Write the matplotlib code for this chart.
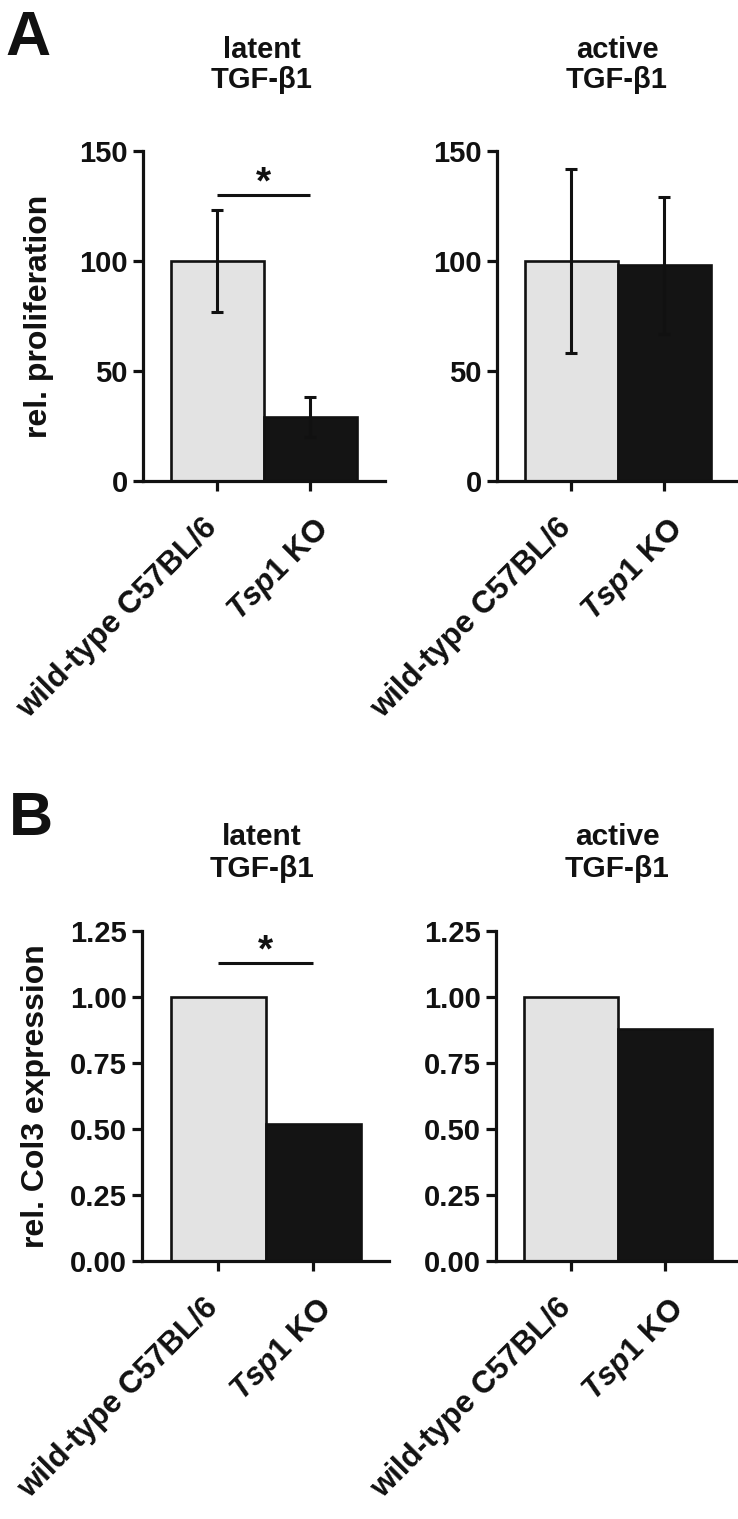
import numpy as np
import matplotlib
matplotlib.use('Agg')
from matplotlib import pyplot as plt
from matplotlib import transforms

plt.rcParams['font.family'] = ['Liberation Sans', 'DejaVu Sans']
plt.rcParams['font.weight'] = 'bold'
plt.rcParams['axes.labelweight'] = 'bold'
plt.rcParams['mathtext.fontset'] = 'custom'
plt.rcParams['mathtext.it'] = 'Liberation Sans:italic:bold'
plt.rcParams['mathtext.rm'] = 'Liberation Sans:bold'
plt.rcParams['mathtext.bf'] = 'Liberation Sans:bold'

#groups and panel titles
groups = ['wild-type C57BL/6', r'$\mathit{Tsp1}$ KO']
titles = ['latent\nTGF-β1', 'active\nTGF-β1']

#panel A: relative proliferation, mean and error
prolif_latent = [100, 29]
prolif_latent_err = [23, 9]
prolif_active = [100, 98]
prolif_active_err = [42, 31]
prolif_ticks = [0, 50, 100, 150]

#panel B: relative Col3 expression
col3_latent = [1.00, 0.52]
col3_active = [1.00, 0.88]
col3_ticks = [0.00, 0.25, 0.50, 0.75, 1.00, 1.25]

#significance bars (height of the bracket line)
sig_prolif = 130
sig_col3 = 1.13

bar_colors = ['#e3e3e3', '#141414']
ink = '#111111'

W, H = 738, 1519
fig = plt.figure(figsize=(W / 100, H / 100), dpi=100)


def px_axes(left, top, spacing, height):
    #axes placed in pixel units, xlim is -0.8..1.8
    width = 2.6 * spacing
    return fig.add_axes([left / W, 1 - (top + height) / H, width / W, height / H])


def draw_panel(ax, vals, errs, ticks, fmt, ylabel=None, sig=None):
    x = np.arange(len(vals))
    ax.bar(x, vals, width=1.0, color=bar_colors, edgecolor=ink, linewidth=1.9, zorder=2)
    if errs is not None:
        ax.errorbar(x, vals, yerr=errs, fmt='none', ecolor=ink, elinewidth=2.2,
                    capsize=4, capthick=2.2, zorder=3)
    ax.set_xlim(-0.8, 1.8)
    ax.set_ylim(ticks[0], ticks[-1])
    for s in ['top', 'right']:
        ax.spines[s].set_visible(False)
    for s in ['left', 'bottom']:
        ax.spines[s].set_linewidth(2.3)
        ax.spines[s].set_color(ink)
    ax.set_yticks(ticks)
    ax.set_yticklabels([fmt.format(t) for t in ticks])
    ax.set_xticks(x)
    ax.set_xticklabels([])
    ax.tick_params(axis='both', width=2.3, length=7, labelsize=21, colors=ink, pad=4)
    #rotated group labels under the ticks
    for xi, lab, dx in zip(x, groups, [-15, 3]):
        off = transforms.ScaledTranslation(dx / 100, -32 / 100, fig.dpi_scale_trans)
        ax.text(xi, 0, lab, transform=ax.get_xaxis_transform() + off, rotation=45,
                ha='right', va='top', rotation_mode='anchor', fontsize=22.5, color=ink)
    if ylabel:
        ax.set_ylabel(ylabel, fontsize=23, color=ink, fontweight='bold')
        ax.yaxis.set_label_coords(-0.37, 0.5)
    if sig is not None:
        ax.plot([0, 1], [sig, sig], color=ink, lw=2.2, solid_capstyle='butt')
        ax.text(0.5, sig * 1.005, '*', ha='center', va='baseline', fontsize=28, color=ink)


axA1 = px_axes(143, 151, 93, 330)
axA2 = px_axes(497, 151, 93, 330)
axB1 = px_axes(142, 931, 95, 330)
axB2 = px_axes(496, 931, 94, 330)

draw_panel(axA1, prolif_latent, prolif_latent_err, prolif_ticks, '{:.0f}',
           ylabel='rel. proliferation', sig=sig_prolif)
draw_panel(axA2, prolif_active, prolif_active_err, prolif_ticks, '{:.0f}')
draw_panel(axB1, col3_latent, None, col3_ticks, '{:.2f}',
           ylabel='rel. Col3 expression', sig=sig_col3)
draw_panel(axB2, col3_active, None, col3_ticks, '{:.2f}')

#panel titles
for xc, t in zip([262, 617], titles):
    fig.text(xc / W, 1 - 88 / H, t, ha='center', va='baseline', fontsize=21,
             linespacing=1.1, color=ink)
    fig.text(xc / W, 1 - 877 / H, t, ha='center', va='baseline', fontsize=21.5,
             linespacing=1.2, color=ink)

#panel letters
fig.text(5 / W, 1 - 55 / H, 'A', fontsize=45, ha='left', va='baseline', color=ink)
fig.text(9 / W, 1 - 835 / H, 'B', fontsize=44, ha='left', va='baseline', color=ink)

fig.savefig('out.png', dpi=100)
